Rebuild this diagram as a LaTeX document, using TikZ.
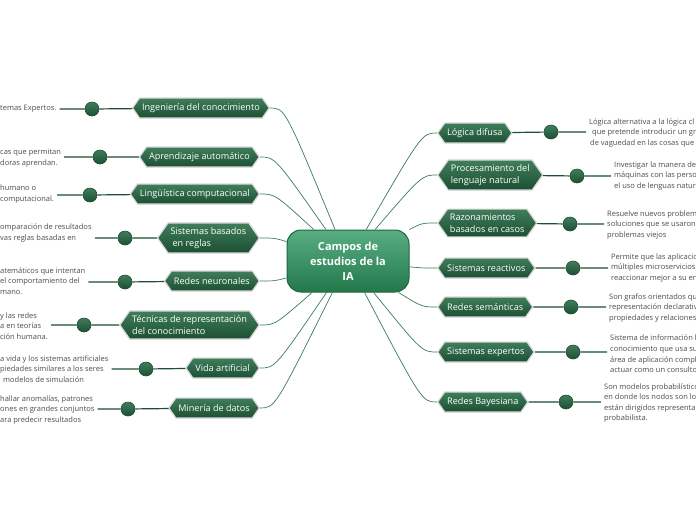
\documentclass[tikz,border=0pt]{standalone}
\usepackage{fontspec}
\setmainfont{Open Sans}
\usepackage{xcolor}
\definecolor{dgreen}{HTML}{1C4F33}
\definecolor{mgreen}{HTML}{407E5B}
\definecolor{cgreen}{HTML}{58AE82}
\definecolor{cdark}{HTML}{23784B}
\definecolor{lgreen}{HTML}{3A7D58}
\definecolor{ltext}{HTML}{4D4D4D}
\usepackage{tikz}
\usetikzlibrary{shapes.symbols,calc}

\begin{document}
\begin{tikzpicture}[
  x=1pt,y=-1pt,
  central/.style={rectangle,rounded corners=14pt,draw=cdark!85!black,line width=1pt,top color=cgreen,bottom color=cdark,text=white,font=\fontsize{11}{15}\selectfont\bfseries,align=center,minimum width=122pt,minimum height=62pt},
  topic/.style={signal,signal to=east and west,signal pointer angle=110,draw=black!15,line width=1.2pt,top color=mgreen,bottom color=dgreen,text=white,font=\fontsize{9.1}{12}\selectfont,align=left,minimum height=20pt,inner xsep=2.5pt,inner ysep=4.5pt},
  dot/.style={circle,minimum size=14pt,inner sep=0pt,top color=mgreen,bottom color=dgreen,draw=dgreen,line width=0.6pt},
  note/.style={text=ltext,font=\fontsize{7.5}{10.6}\selectfont,align=left,inner xsep=3pt,inner ysep=0pt},
  stem/.style={dgreen,line width=1.2pt},
  link/.style={lgreen,line width=0.7pt}
]
  \useasboundingbox (0,0) rectangle (696,520);
  \clip (0,0) rectangle (696,520);
  \fill[white] (0,0) rectangle (696,520);

  \node[central] (c) at (348,261) {Campos de\\estudios de la\\IA};

  % left branches
  \node[topic,anchor=east] (l1) at (270,108) {Ingeniería del conocimiento};
  \node[topic,anchor=east] (l2) at (260,157) {Aprendizaje automático};
  \node[topic,anchor=east] (l3) at (260,194) {Lingüística computacional};
  \node[topic,anchor=east] (l4) at (260,238) {Sistemas basados\\\hspace*{2pt}en reglas};
  \node[topic,anchor=east] (l5) at (260,281) {Redes neuronales};
  \node[topic,anchor=east] (l6) at (260,325) {Técnicas de representación\\del conocimiento};
  \node[topic,anchor=east] (l7) at (260,368) {Vida artificial};
  \node[topic,anchor=east] (l8) at (260,408) {Minería de datos};

  % right branches
  \node[topic,anchor=west] (r1) at (437,133) {Lógica difusa};
  \node[topic,anchor=west] (r2) at (437,175) {Procesamiento del\\lenguaje natural};
  \node[topic,anchor=west] (r3) at (437,223) {Razonamientos\\basados en casos};
  \node[topic,anchor=west] (r4) at (437,268) {Sistemas reactivos};
  \node[topic,anchor=west] (r5) at (437,307) {Redes semánticas};
  \node[topic,anchor=west] (r6) at (437,352) {Sistemas expertos};
  \node[topic,anchor=west] (r7) at (437,402) {Redes Bayesiana};

  % dots
  \node[dot] (d1) at (92,109) {};
  \node[dot] (d2) at (100,157) {};
  \node[dot] (d3) at (90,195) {};
  \node[dot] (d4) at (125,238) {};
  \node[dot] (d5) at (125,282) {};
  \node[dot] (d6) at (84,325) {};
  \node[dot] (d7) at (146,369) {};
  \node[dot] (d8) at (128,409) {};
  \node[dot] (e1) at (551,132) {};
  \node[dot] (e2) at (577,176) {};
  \node[dot] (e3) at (570,224) {};
  \node[dot] (e4) at (573,268) {};
  \node[dot] (e5) at (571,307) {};
  \node[dot] (e6) at (573,352) {};
  \node[dot] (e7) at (566,402) {};

  % notes
  \node[note,anchor=west] (t1) at (-3,109) {temas Expertos.};
  \node[note,anchor=west] (t2) at (-3,158) {cas que permitan\\doras aprendan.};
  \node[note,anchor=west] (t3) at (-3,194) {humano o\\computacional.};
  \node[note,anchor=west] (t4) at (-3,233) {omparación de resultados\\vas reglas basadas en};
  \node[note,anchor=west] (t5) at (-3,281) {atemáticos que intentan\\el comportamiento del\\mano.};
  \node[note,anchor=west] (t6) at (-3,326) {y las redes\\a en teorías\\ción humana.};
  \node[note,anchor=west] (t7) at (-3,369) {a vida y los sistemas artificiales\\piedades similares a los seres\\\hspace*{3pt}modelos de simulación};
  \node[note,anchor=west] (t8) at (-3,410) {hallar anomalías, patrones\\ones en grandes conjuntos\\ara predecir resultados};

  \node[note,anchor=west] (u1) at (586,133) {Lógica alternativa a la lógica cl\\\hspace*{3pt}que pretende introducir un gr\\\hspace*{1pt}de vaguedad en las cosas que};
  \node[note,anchor=west] (u2) at (611,176) {Investigar la manera de\\máquinas con las perso\\el uso de lenguas natur};
  \node[note,anchor=west] (u3) at (604,225) {Resuelve nuevos problem\\soluciones que se usaron\\problemas viejos};
  \node[note,anchor=west] (u4) at (608,268) {Permite que las aplicacio\\múltiples microservicios\\reaccionar mejor a su en};
  \node[note,anchor=west] (u5) at (606,308) {Son grafos orientados qu\\representación declarativ\\propiedades y relaciones};
  \node[note,anchor=west] (u6) at (607,354) {Sistema de información b\\conocimiento que usa su\\área de aplicación compl\\actuar como un consulto};
  \node[note,anchor=west] (u7) at (601,403) {Son modelos probabilístico\\en donde los nodos son lo\\están dirigidos representa\\probabilista.};

  % stems
  \draw[stem] (t1.east |- d1) -- (d1) -- (l1);
  \draw[stem] (t2.east |- d2) -- (d2) -- (l2);
  \draw[stem] (t3.east |- d3) -- (d3) -- (l3);
  \draw[stem] (t4.east |- d4) -- (d4) -- (l4);
  \draw[stem] (t5.east |- d5) -- (d5) -- (l5);
  \draw[stem] (t6.east |- d6) -- (d6) -- (l6);
  \draw[stem] (t7.east |- d7) -- (d7) -- (l7);
  \draw[stem] (t8.east |- d8) -- (d8) -- (l8);
  \draw[stem] (r1) -- (e1) -- (u1.west |- e1);
  \draw[stem] (r2) -- (e2) -- (u2.west |- e2);
  \draw[stem] (r3) -- (e3) -- (u3.west |- e3);
  \draw[stem] (r4) -- (e4) -- (u4.west |- e4);
  \draw[stem] (r5) -- (e5) -- (u5.west |- e5);
  \draw[stem] (r6) -- (e6) -- (u6.west |- e6);
  \draw[stem] (r7) -- (e7) -- (u7.west |- e7);

  % links to the centre
  \draw[link] (l1.east) .. controls +(15,0) .. (c);
  \draw[link] (l2.east) .. controls +(15,0) .. (c);
  \draw[link] (l3.east) .. controls +(15,0) .. (c);
  \draw[link] (l4.east) .. controls +(15,0) .. (c);
  \draw[link] (l5.east) .. controls +(15,0) .. (c);
  \draw[link] (l6.east) .. controls +(15,0) .. (c);
  \draw[link] (l7.east) .. controls +(15,0) .. (c);
  \draw[link] (l8.east) .. controls +(15,0) .. (c);
  \draw[link] (r1.west) .. controls +(-15,0) .. (c);
  \draw[link] (r2.west) .. controls +(-15,0) .. (c);
  \draw[link] (r3.west) .. controls +(-15,0) .. (c);
  \draw[link] (r4.west) .. controls +(-15,0) .. (c);
  \draw[link] (r5.west) .. controls +(-15,0) .. (c);
  \draw[link] (r6.west) .. controls +(-15,0) .. (c);
  \draw[link] (r7.west) .. controls +(-15,0) .. (c);
\end{tikzpicture}
\end{document}
